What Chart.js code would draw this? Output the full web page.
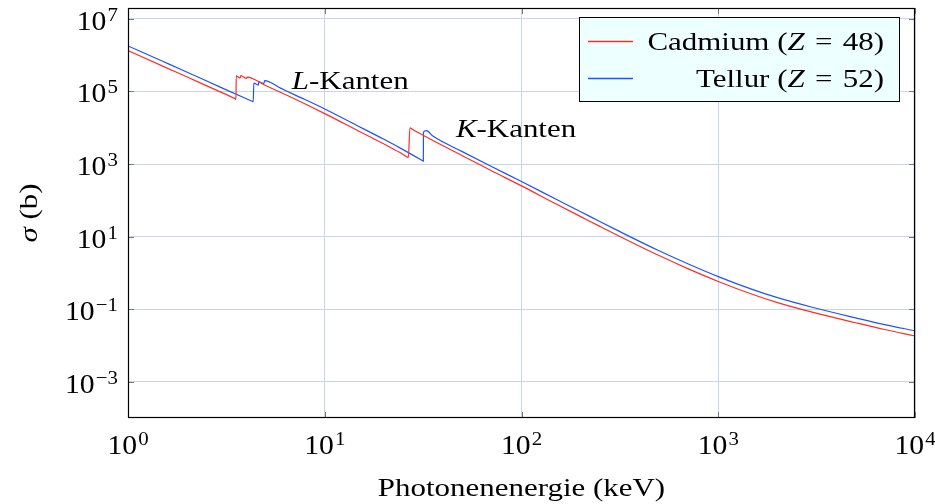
<!DOCTYPE html>
<html>
<head>
<meta charset="utf-8">
<script src="https://cdn.jsdelivr.net/npm/chart.js@4.4.0/dist/chart.umd.min.js"></script>
<style>
  html, body { margin: 0; padding: 0; background: #fff; }
  #wrap { width: 935px; height: 504px; }
</style>
</head>
<body>
<div id="wrap"><canvas id="chart" width="935" height="504"></canvas></div>
<script>
// Photonenenergie (keV) und Wirkungsquerschnitt (b)
var cdEnergy = [1, 1.5, 2, 2.5, 3, 3.4, 3.52, 3.537, 3.55, 3.72, 3.74, 4.0, 4.03, 5, 7, 10, 15, 20, 24, 26.3, 26.6, 27.1, 28, 34.3, 50, 70, 100, 150, 200, 250, 300, 500, 700, 1000, 1500, 2000, 3000, 5000, 7000, 10000];
var cdSigma  = [1.35e6, 5.0e5, 2.5e5, 1.45e5, 9.3e4, 6.8e4, 6.2e4, 6.0e4, 2.7e5, 2.35e5, 2.75e5, 2.3e5, 2.5e5, 1.46e5, 6.3e4, 2.45e4, 7.9e3, 3.55e3, 2.1e3, 1.55e3, 1.5e3, 1.0e4, 8.9e3, 4.9e3, 1.7e3, 660, 250, 79, 35.5, 19.1, 11.6, 3.0, 1.31, 0.58, 0.253, 0.152, 0.083, 0.0422, 0.0275, 0.0182];

var teEnergy = [1, 1.5, 2, 3, 4, 4.3, 4.33, 4.36, 4.6, 4.62, 4.9, 4.95, 6, 7, 10, 15, 20, 25, 31.3, 31.7, 31.75, 32.8, 35.6, 50, 70, 100, 150, 200, 250, 300, 500, 700, 1000, 1500, 2000, 3000, 5000, 7000, 10000];
var teSigma  = [1.8e6, 6.8e5, 3.4e5, 1.26e5, 6.3e4, 5.3e4, 5.2e4, 1.7e5, 1.5e5, 1.85e5, 1.65e5, 2.0e5, 1.22e5, 8.2e4, 3.3e4, 1.07e4, 4.8e3, 2.5e3, 1.25e3, 1.2e3, 7.6e3, 8.3e3, 5.8e3, 2.2e3, 870, 330, 107, 48.4, 26, 15.8, 4.07, 1.79, 0.79, 0.345, 0.207, 0.113, 0.0575, 0.0376, 0.0254];

var seriesNames = ['Cadmium', 'Tellur'];
var seriesZ = [48, 52];
var seriesColors = ['rgb(255,45,35)', 'rgb(25,85,255)'];

var xTicks = [1, 10, 100, 1000, 10000];
var yTicks = [1e-3, 1e-1, 1e1, 1e3, 1e5, 1e7];

var xTitle = 'Photonenenergie (keV)';
var yTitleParts = [{ t: '\u03c3', i: true }, { t: ' (b)', i: false }];

var FONT_FAMILY = '"Liberation Serif", "DejaVu Serif", serif';
var BASE_SIZE = 26;
var NUM_SIZE = 27;
var SUP_SIZE = 19;
var STRETCH = 1.19;     // Computer Modern ist breiter als Times
var NUM_STRETCH = 1.1;

function makePoints(xs, ys) {
    var pts = [];
    for (var i = 0; i < xs.length; i++) pts.push({ x: xs[i], y: ys[i] });
    return pts;
}

// Text mit kursiven Teilen (z.B. "Z" oder "L"), etwas breiter gezogen
function partsWidth(ctx, parts, size) {
    var w = 0;
    parts.forEach(function (p) {
        ctx.font = (p.i ? 'italic ' : '') + size + 'px ' + FONT_FAMILY;
        w += ctx.measureText(p.t).width * STRETCH;
    });
    return w;
}
function drawParts(ctx, parts, x, y, size) {
    ctx.save();
    ctx.translate(x, y);
    ctx.scale(STRETCH, 1);
    ctx.textAlign = 'left';
    ctx.textBaseline = 'alphabetic';
    var cx = 0;
    parts.forEach(function (p) {
        ctx.font = (p.i ? 'italic ' : '') + size + 'px ' + FONT_FAMILY;
        ctx.fillText(p.t, cx, 0);
        cx += ctx.measureText(p.t).width;
    });
    ctx.restore();
}

// 10^n Beschriftung
function drawPow(ctx, value, x, y, align) {
    var e = Math.round(Math.log10(value));
    var expText = e < 0 ? '\u2212' + (-e) : String(e);
    ctx.font = NUM_SIZE + 'px ' + FONT_FAMILY;
    var w1 = ctx.measureText('10').width;
    ctx.font = SUP_SIZE + 'px ' + FONT_FAMILY;
    var w2 = ctx.measureText(expText).width;
    var total = (w1 + 1 + w2) * NUM_STRETCH;
    var x0 = align === 'right' ? x - total : x - total / 2;
    ctx.save();
    ctx.translate(x0, y);
    ctx.scale(NUM_STRETCH, 1);
    ctx.textAlign = 'left';
    ctx.textBaseline = 'alphabetic';
    ctx.fillStyle = '#000';
    ctx.font = NUM_SIZE + 'px ' + FONT_FAMILY;
    ctx.fillText('10', 0, 0);
    ctx.font = SUP_SIZE + 'px ' + FONT_FAMILY;
    ctx.fillText(expText, w1 + 1, -9);
    ctx.restore();
}

var decorPlugin = {
    id: 'decor',
    afterDraw: function (chart) {
        var ctx = chart.ctx;
        var a = chart.chartArea;
        var xs = chart.scales.x, ys = chart.scales.y;
        ctx.save();

        // kleine Striche innen
        ctx.strokeStyle = 'rgb(120,120,120)';
        ctx.lineWidth = 1;
        ctx.beginPath();
        yTicks.forEach(function (v) {
            var py = Math.round(ys.getPixelForValue(v)) + 0.5;
            ctx.moveTo(a.left, py); ctx.lineTo(a.left + 6, py);
            ctx.moveTo(a.right, py); ctx.lineTo(a.right - 6, py);
        });
        xTicks.forEach(function (v) {
            var px = Math.round(xs.getPixelForValue(v)) + 0.5;
            ctx.moveTo(px, a.bottom); ctx.lineTo(px, a.bottom - 6);
            ctx.moveTo(px, a.top); ctx.lineTo(px, a.top + 6);
        });
        ctx.stroke();

        // Rahmen
        ctx.strokeStyle = '#000';
        ctx.lineWidth = 1.2;
        ctx.strokeRect(a.left + 0.5, a.top + 0.5, a.right - a.left - 1, a.bottom - a.top - 1);

        // Achsenbeschriftung
        yTicks.forEach(function (v) {
            drawPow(ctx, v, a.left - 10, ys.getPixelForValue(v) + 11, 'right');
        });
        xTicks.forEach(function (v) {
            drawPow(ctx, v, xs.getPixelForValue(v), a.bottom + 36, 'center');
        });

        ctx.fillStyle = '#000';
        var xtParts = [{ t: xTitle, i: false }];
        var xtw = partsWidth(ctx, xtParts, BASE_SIZE);
        drawParts(ctx, xtParts, (a.left + a.right) / 2 - xtw / 2, a.bottom + 78, BASE_SIZE);

        ctx.save();
        ctx.translate(37, (a.top + a.bottom) / 2);
        ctx.rotate(-Math.PI / 2);
        var ytw = partsWidth(ctx, yTitleParts, BASE_SIZE);
        drawParts(ctx, yTitleParts, -ytw / 2, 0, BASE_SIZE);
        ctx.restore();

        // Kanten-Text
        var lx = xs.getPixelForValue(6.8), ly = ys.getPixelForValue(1.2e5);
        drawParts(ctx, [{ t: 'L', i: true }, { t: '-Kanten', i: false }], lx, ly, BASE_SIZE);
        var kx = xs.getPixelForValue(46.4), ky = ys.getPixelForValue(5.6e3);
        drawParts(ctx, [{ t: 'K', i: true }, { t: '-Kanten', i: false }], kx, ky, BASE_SIZE);

        // Legende
        var bx = 579, by = 17, bw = 320, bh = 84;
        ctx.fillStyle = 'rgb(238,255,255)';
        ctx.fillRect(bx, by, bw, bh);
        ctx.strokeStyle = '#000';
        ctx.lineWidth = 1;
        ctx.strokeRect(bx + 0.5, by + 0.5, bw, bh);
        for (var k = 0; k < seriesNames.length; k++) {
            var rowY = by + 24 + k * 37;
            ctx.strokeStyle = seriesColors[k];
            ctx.lineWidth = 1.4;
            ctx.beginPath();
            ctx.moveTo(bx + 9, rowY + 0.5);
            ctx.lineTo(bx + 54, rowY + 0.5);
            ctx.stroke();
            var parts = [{ t: seriesNames[k] + ' (', i: false }, { t: 'Z', i: true }, { t: '\u2004=\u2004' + seriesZ[k] + ')', i: false }];
            var w = partsWidth(ctx, parts, BASE_SIZE);
            ctx.fillStyle = '#000';
            drawParts(ctx, parts, bx + bw - 15 - w, rowY + 9, BASE_SIZE);
        }
        ctx.restore();
    }
};

var gridColor = 'rgb(200,213,238)';

var chart = new Chart(document.getElementById('chart'), {
    type: 'scatter',
    data: {
        datasets: [{
            label: seriesNames[0],
            data: makePoints(cdEnergy, cdSigma),
            showLine: true,
            borderColor: seriesColors[0],
            backgroundColor: seriesColors[0],
            borderWidth: 1.2,
            pointRadius: 0,
            cubicInterpolationMode: 'monotone'
        }, {
            label: seriesNames[1],
            data: makePoints(teEnergy, teSigma),
            showLine: true,
            borderColor: seriesColors[1],
            backgroundColor: seriesColors[1],
            borderWidth: 1.2,
            pointRadius: 0,
            cubicInterpolationMode: 'monotone'
        }]
    },
    options: {
        responsive: false,
        animation: false,
        layout: { padding: { left: 128, top: 8, right: 20, bottom: 86 } },
        plugins: { legend: { display: false }, tooltip: { enabled: false } },
        scales: {
            x: {
                type: 'logarithmic',
                min: 1, max: 10000,
                afterBuildTicks: function (s) { s.ticks = xTicks.map(function (v) { return { value: v }; }); },
                ticks: { display: false },
                grid: { color: gridColor, lineWidth: 1, drawTicks: false },
                border: { display: false }
            },
            y: {
                type: 'logarithmic',
                min: 1e-4, max: 2e7,
                afterBuildTicks: function (s) { s.ticks = yTicks.map(function (v) { return { value: v }; }); },
                ticks: { display: false },
                grid: { color: gridColor, lineWidth: 1, drawTicks: false },
                border: { display: false }
            }
        }
    },
    plugins: [decorPlugin]
});
</script>
</body>
</html>
